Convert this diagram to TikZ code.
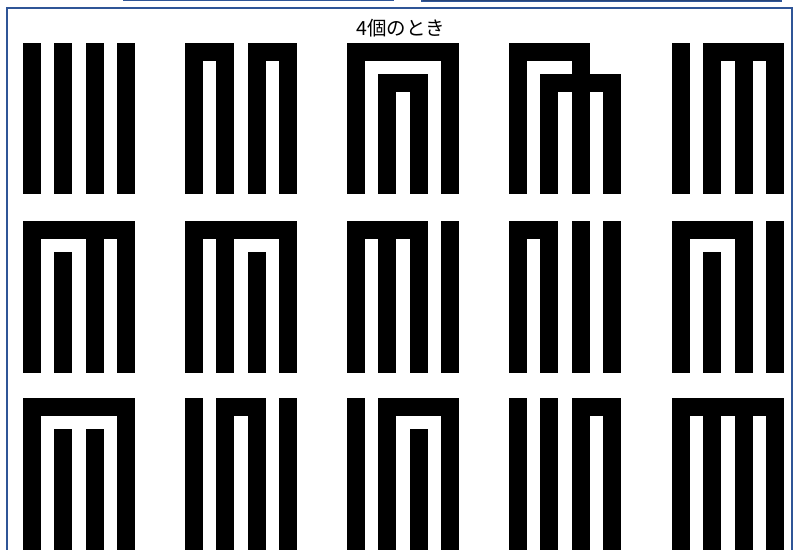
\documentclass[tikz,border=0pt]{standalone}
\usepackage{fontspec}
\newfontfamily\cjk{Noto Sans CJK JP}
\definecolor{frameblue}{RGB}{47,85,151}
\begin{document}
\begin{tikzpicture}[x=1pt,y=-1pt,
  blk/.style={fill=black},
  framestyle/.style={draw=frameblue,line width=2pt},
  topbox/.style={draw=frameblue,line width=1.2pt,fill=frameblue!80!black}]
\useasboundingbox (0,0) rectangle (795,549);
\clip (0,0) rectangle (795,549);
\fill[white] (0,0) rectangle (795,549);
% boxes above (cut off)
\draw[frameblue,line width=1.2pt] (123.5,-20) rectangle (393,0.6);
\draw[topbox] (422,-20) rectangle (781,1.2);
% frame
\draw[framestyle] (6.5,7.5) rectangle (792,570);
% title
\node (title) at (401,28.5) {\cjk\fontsize{19.5}{21}\selectfont 4個のとき};
\newcommand\bars[3]{\begin{scope}[shift={(#1,#2)}]
  \foreach \i/\l in {#3} {\fill[blk] ({(\i-1)*31.33},{\l*31.33}) rectangle ({(\i-1)*31.33+18},\hh);}
  \end{scope}}
\newcommand\arches[3]{\begin{scope}[shift={(#1,#2)}]
  \foreach \a/\b/\l in {#3} {\fill[blk] ({(\a-1)*31.33},{\l*31.33}) rectangle ({(\b-1)*31.33+18},{\l*31.33+18});}
  \end{scope}}
% row 1
\def\hh{151}
\bars{23}{43}{1/0,2/0,3/0,4/0}
\bars{185}{43}{1/0,2/0,3/0,4/0}
\arches{185}{43}{1/2/0,3/4/0}
\bars{347}{43}{1/0,2/1,3/1,4/0}
\arches{347}{43}{1/4/0,2/3/1}
\bars{509}{43}{1/0,2/1,3/0,4/1}
\arches{509}{43}{1/3/0,2/4/1}
\bars{672}{43}{1/0,2/0,3/0,4/0}
\arches{672}{43}{2/4/0}
% row 2
\def\hh{152}
\bars{23}{221}{1/0,2/1,3/0,4/0}
\arches{23}{221}{1/4/0}
\bars{185}{221}{1/0,2/0,3/1,4/0}
\arches{185}{221}{1/4/0}
\bars{347}{221}{1/0,2/0,3/0,4/0}
\arches{347}{221}{1/3/0}
\bars{509}{221}{1/0,2/0,3/0,4/0}
\arches{509}{221}{1/2/0}
\bars{672}{221}{1/0,2/1,3/0,4/0}
\arches{672}{221}{1/3/0}
% row 3
\def\hh{200}
\bars{23}{398}{1/0,2/1,3/1,4/0}
\arches{23}{398}{1/4/0}
\bars{185}{398}{1/0,2/0,3/0,4/0}
\arches{185}{398}{2/3/0}
\bars{347}{398}{1/0,2/0,3/1,4/0}
\arches{347}{398}{2/4/0}
\bars{509}{398}{1/0,2/0,3/0,4/0}
\arches{509}{398}{3/4/0}
\bars{672}{398}{1/0,2/0,3/0,4/0}
\arches{672}{398}{1/4/0}
\end{tikzpicture}
\end{document}
